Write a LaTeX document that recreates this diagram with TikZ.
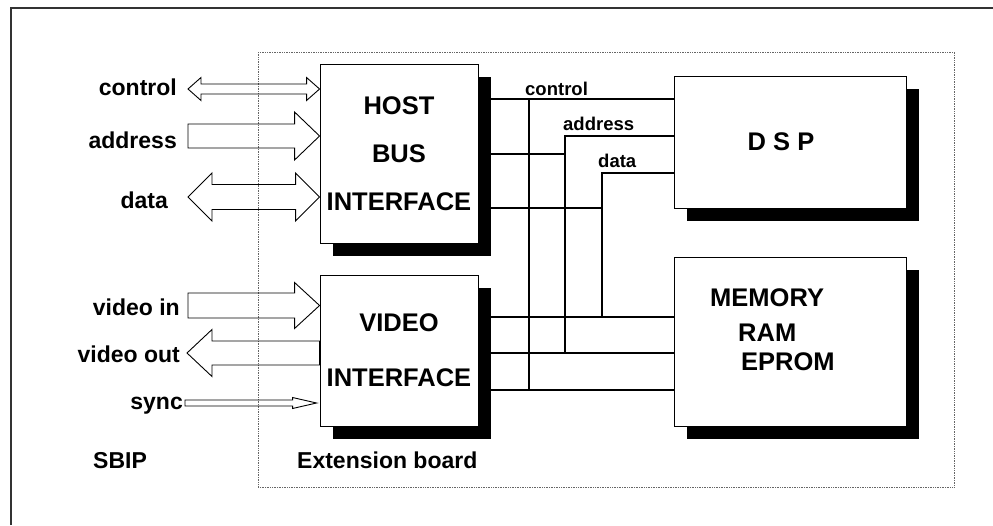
\documentclass[tikz,border=0pt]{standalone}
\usepackage{fontspec}
\setmainfont{Liberation Sans}
\usetikzlibrary{calc,shadows}

% hollow bus arrows: tail/tip coordinates, shaft half width, head half width, head length
\newcommand{\fatright}[5]{%
  \draw[fat] let \p1=(#1), \p2=(#2) in
    (\x1,\y2+#3pt) -- (\x2-#5pt,\y2+#3pt) -- (\x2-#5pt,\y2+#4pt) -- (\p2)
    -- (\x2-#5pt,\y2-#4pt) -- (\x2-#5pt,\y2-#3pt) -- (\x1,\y2-#3pt) -- cycle;}
\newcommand{\fatleft}[5]{%
  \draw[fat] let \p1=(#1), \p2=(#2) in
    (\p1) -- (\x1+#5pt,\y1+#4pt) -- (\x1+#5pt,\y1+#3pt) -- (\x2,\y1+#3pt)
    -- (\x2,\y1-#3pt) -- (\x1+#5pt,\y1-#3pt) -- (\x1+#5pt,\y1-#4pt) -- cycle;}
\newcommand{\fatboth}[5]{%
  \draw[fat] let \p1=(#1), \p2=(#2) in
    (\p1) -- (\x1+#5pt,\y1+#4pt) -- (\x1+#5pt,\y1+#3pt) -- (\x2-#5pt,\y1+#3pt)
    -- (\x2-#5pt,\y1+#4pt) -- (\p2) -- (\x2-#5pt,\y1-#4pt) -- (\x2-#5pt,\y1-#3pt)
    -- (\x1+#5pt,\y1-#3pt) -- (\x1+#5pt,\y1-#4pt) -- cycle;}

\tikzset{
  board/.style={rectangle, draw, fill=white, line width=0.9pt,
    drop shadow={shadow xshift=13pt, shadow yshift=-13pt, fill=black, opacity=1}},
  bigtext/.style={font=\bfseries\fontsize{25.5}{48}\selectfont, inner sep=0pt},
  lbl/.style={font=\bfseries\fontsize{23}{26}\selectfont, inner sep=0pt},
  buslbl/.style={font=\bfseries\fontsize{18.5}{22}\selectfont, inner sep=0pt},
  bus/.style={line width=1.4pt},
  fat/.style={line width=0.9pt, line join=miter},
}

\begin{document}
\begin{tikzpicture}[x=1pt,y=-1pt]
  \useasboundingbox (0,0) rectangle (993,525);
  % frames
  \draw[line width=1.2pt, black!80] (11,525) -- (11,8) -- (993,8);
  \draw[densely dotted, black!60, line width=0.7pt] (258,52) rectangle (954,487);

  % bus coordinates
  \coordinate (cb) at (529,99);
  \coordinate (cbb) at (529,390);
  \coordinate (ab) at (565,136);
  \coordinate (abh) at (565,154);
  \coordinate (abb) at (565,353);
  \coordinate (db) at (602,173);
  \coordinate (dbh) at (602,208);
  \coordinate (dbb) at (602,317);

  % boards
  \node[board, minimum width=158pt, minimum height=179pt, align=center,
    font=\bfseries\fontsize{25.5}{48}\selectfont] (host) at (399,153.5) {HOST\\BUS\\INTERFACE};
  \node[board, minimum width=158pt, minimum height=151pt, align=center,
    font=\bfseries\fontsize{25.5}{55}\selectfont] (video) at (399,350.5) {VIDEO\\INTERFACE};
  \node[board, minimum width=232pt, minimum height=132pt] (dsp) at (790,142) {};
  \node[board, minimum width=232pt, minimum height=169pt] (mem) at (790,341.5) {};

  % bus lines
  \draw[bus] (host.east |- cb) -- (dsp.west |- cb);
  \draw[bus] (cb) -- (cbb);
  \draw[bus] (video.east |- cbb) -- (mem.west |- cbb);
  \draw[bus] (host.east |- abh) -- (abh);
  \draw[bus] (dsp.west |- ab) -- (ab) -- (abb);
  \draw[bus] (video.east |- abb) -- (mem.west |- abb);
  \draw[bus] (host.east |- dbh) -- (dbh);
  \draw[bus] (dsp.west |- db) -- (db) -- (dbb);
  \draw[bus] (video.east |- dbb) -- (mem.west |- dbb);

  \node[buslbl, anchor=base west] (bctrl) at (525,95) {control};
  \node[buslbl, anchor=base west] (baddr) at (563,130) {address};
  \node[buslbl, anchor=base west] (bdata) at (598,167) {data};

  % board texts
  \node[bigtext] (dsptxt) at ([xshift=-9pt]dsp.center) {D S P};
  \node[bigtext, anchor=base west] (memA) at (710,306) {MEMORY};
  \node[bigtext, anchor=base west] (memB) at (738,341) {RAM};
  \node[bigtext, anchor=base west] (memC) at (741,370) {EPROM};

  % outside signals
  \node[lbl, anchor=base east] (lctrl) at (177,95) {control};
  \node[lbl, anchor=base east] (laddr) at (177,148) {address};
  \node[lbl, anchor=base east] (ldata) at (168,208) {data};
  \node[lbl, anchor=base east] (lvin) at (180,315) {video in};
  \node[lbl, anchor=base east] (lvout) at (180,362) {video out};
  \node[lbl, anchor=base east] (lsync) at (183,409) {sync};
  \node[lbl, anchor=base west] (sbip) at (93,468) {SBIP};
  \node[lbl, anchor=base west] (ext) at (297,468) {Extension board};

  \coordinate (ctrlL) at (188,89);
  \coordinate (ctrlR) at (host.west |- ctrlL);
  \coordinate (addrT) at (188,136);
  \coordinate (addrH) at (host.west |- addrT);
  \coordinate (dataL) at (188,197);
  \coordinate (dataR) at (host.west |- dataL);
  \coordinate (vinT) at (188,305.5);
  \coordinate (vinH) at (video.west |- vinT);
  \coordinate (voutH) at (187,353);
  \coordinate (voutT) at (video.west |- voutH);
  \coordinate (syncT) at (185,403);
  \coordinate (syncH) at ([xshift=-3pt]video.west |- syncT);

  \fatboth{ctrlL}{ctrlR}{5}{11.5}{13}
  \fatright{addrT}{addrH}{12}{24}{25}
  \fatboth{dataL}{dataR}{12.5}{24}{24}
  \fatright{vinT}{vinH}{12.5}{23}{25}
  \fatleft{voutH}{voutT}{12}{23.5}{25}
  \fatright{syncT}{syncH}{3}{5.5}{24}
\end{tikzpicture}
\end{document}
